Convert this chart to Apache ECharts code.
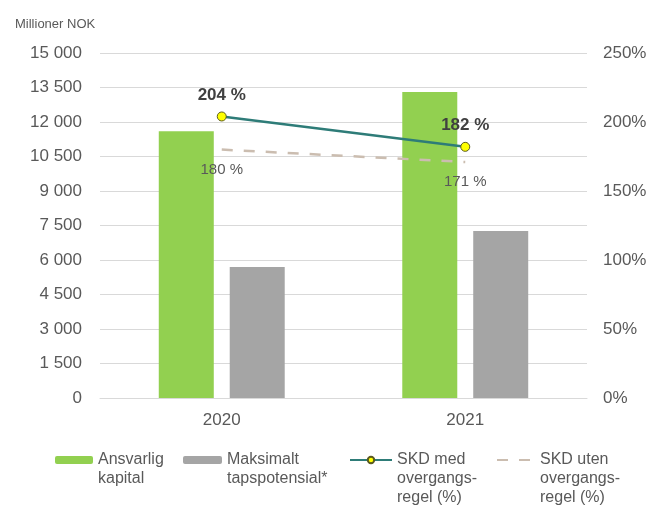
<!DOCTYPE html>
<html>
<head>
<meta charset="utf-8">
<script src="https://cdn.jsdelivr.net/npm/echarts@6/dist/echarts.min.js"></script>
<style>
html,body{margin:0;padding:0;background:#fff;}
#c{width:653px;height:509px;}
</style>
</head>
<body>
<div id="c"></div>
<script>
const categories = ['2020', '2021'];
const ansvarligKapital = [11600, 13300];
const maksimaltTapspotensial = [5700, 7260];
const skdMed = [204, 182];
const skdUten = [180, 171];
const seriesNames = ['Ansvarlig kapital', 'Maksimalt tapspotensial*', 'SKD med overgangsregel (%)', 'SKD uten overgangsregel (%)'];
const legendTexts = ['Ansvarlig\nkapital', 'Maksimalt\ntapspotensial*', 'SKD med\novergangs-\nregel (%)', 'SKD uten\novergangs-\nregel (%)'];
const unitLabel = 'Millioner NOK';

const FONT = 'Liberation Sans, Arial, sans-serif';
const TXT = '#595959';
const LH = 19;

function fmtThousands(v) {
  return String(v).replace(/\B(?=(\d{3})+(?!\d))/g, ' ');
}

function legendFor(idx, left, width, extra) {
  const lines = legendTexts[idx].split('\n').length;
  const pre = '\n'.repeat(lines - 1);
  const half = (lines * 2 - 1) * LH / 2;
  return {
    left: left,
    top: 460 - half,
    padding: 0,
    itemWidth: width,
    itemHeight: 8,
    itemGap: 0,
    selectedMode: false,
    data: [Object.assign({ name: seriesNames[idx] }, extra || {})],
    formatter: function () { return pre + legendTexts[idx]; },
    textStyle: { fontFamily: FONT, fontSize: 16, color: TXT, lineHeight: LH }
  };
}

const chart = echarts.init(document.getElementById('c'));
chart.setOption({
  animation: false,
  title: {
    text: unitLabel,
    left: 10, top: 13,
    textStyle: { fontFamily: FONT, fontSize: 13, fontWeight: 'normal', color: TXT }
  },
  grid: { left: 100, right: 66, top: 53, bottom: 111, containLabel: false },
  legend: [
    legendFor(0, 55, 38),
    legendFor(1, 183, 39),
    legendFor(2, 349, 42),
    legendFor(3, 496, 38, { itemStyle: { opacity: 0 } })
  ],
  xAxis: {
    type: 'category',
    data: categories,
    axisLine: { lineStyle: { color: '#D9D9D9', width: 1 } },
    axisTick: { show: false },
    axisLabel: { fontFamily: FONT, fontSize: 17, color: TXT, margin: 14 }
  },
  yAxis: [
    {
      type: 'value', min: 0, max: 15000, interval: 1500,
      axisLine: { show: false }, axisTick: { show: false },
      splitLine: { lineStyle: { color: '#D9D9D9', width: 1 } },
      axisLabel: { fontFamily: FONT, fontSize: 17, color: TXT, margin: 18, formatter: fmtThousands }
    },
    {
      type: 'value', min: 0, max: 250, interval: 50, position: 'right',
      axisLine: { show: false }, axisTick: { show: false },
      splitLine: { show: false },
      axisLabel: { fontFamily: FONT, fontSize: 17, color: TXT, margin: 16, formatter: '{value}%' }
    }
  ],
  series: [
    {
      name: seriesNames[0], type: 'bar', data: ansvarligKapital,
      barWidth: 55, barGap: '29%',
      itemStyle: { color: '#92D050' }
    },
    {
      name: seriesNames[1], type: 'bar', data: maksimaltTapspotensial,
      barWidth: 55, barGap: '29%',
      itemStyle: { color: '#A5A5A5' }
    },
    {
      name: seriesNames[2], type: 'line', yAxisIndex: 1, data: skdMed,
      symbol: 'circle', symbolSize: 9,
      lineStyle: { color: '#2E7C78', width: 2.5 },
      itemStyle: { color: '#FFFF00', borderColor: '#5A5A20', borderWidth: 1 },
      label: {
        show: true, position: 'top', distance: 8,
        fontFamily: FONT, fontSize: 17, fontWeight: 'bold', color: '#404040',
        formatter: function (p) { return p.value + ' %'; }
      },
      z: 5
    },
    {
      name: seriesNames[3], type: 'line', yAxisIndex: 1, data: skdUten,
      symbol: 'circle', symbolSize: 1,
      lineStyle: { color: '#CBBDB0', width: 2.5, type: [11, 11] },
      itemStyle: { color: 'rgba(0,0,0,0)', borderWidth: 0 },
      label: {
        show: true, position: 'bottom', distance: 12,
        fontFamily: FONT, fontSize: 15, color: TXT,
        formatter: function (p) { return p.value + ' %'; }
      },
      z: 4
    }
  ]
});
</script>
</body>
</html>
